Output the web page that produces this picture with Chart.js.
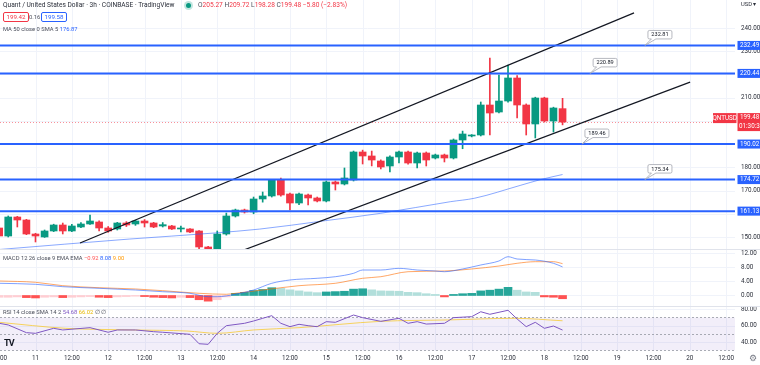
<!DOCTYPE html>
<html>
<head>
<meta charset="utf-8">
<script src="https://cdn.jsdelivr.net/npm/chart.js@4.4.1/dist/chart.umd.min.js"></script>
<style>
  html, body { margin: 0; padding: 0; background: #fff; }
  #wrap { position: relative; width: 760px; height: 365px; overflow: hidden; font-family: Roboto, "Liberation Sans", sans-serif; }
  canvas { position: absolute; left: 0; }
  .t { position: absolute; white-space: nowrap; font-size: 6.6px; line-height: 8px; color: #4a4e5a; }
  .s { font-size: 5.8px; }
  .r { color: #f23645; }
  .box { position: absolute; font-size: 6.2px; line-height: 8px; padding: 0 2.5px; border: 1px solid; border-radius: 2px; background: #fff; }
  .sep { position: absolute; left: 0; width: 760px; height: 1px; background: #e0e3eb; }
  .dot { position: absolute; width: 5px; height: 5px; border-radius: 50%; background: #089981; box-shadow: 0 0 0 2px rgba(8,153,129,0.25); }
</style>
</head>
<body>
<div id="wrap">
  <canvas id="pricePane" width="760" height="249" style="top:0"></canvas>
  <canvas id="macdPane" width="760" height="57" style="top:249px"></canvas>
  <canvas id="rsiPane" width="760" height="59" style="top:306px"></canvas>
  <div class="sep" style="top:249px"></div>
  <div class="sep" style="top:306px"></div>

  <div class="t" style="left:3px;top:1px;color:#2a2e39">Quant / United States Dollar · 3h · COINBASE · TradingView</div>
  <div class="dot" style="left:186px;top:3px"></div>
  <div class="t" style="left:198px;top:1px">O<span class="r">205.27</span> H<span class="r">209.72</span> L<span class="r">198.28</span> C<span class="r">199.48</span> <span class="r">−5.80 (−2.83%)</span></div>
  <div class="box" style="left:3px;top:12px;border-color:#f23645;color:#f23645">199.42</div>
  <div class="t s" style="left:29px;top:13px">0.16</div>
  <div class="box" style="left:41px;top:12px;border-color:#2962ff;color:#2962ff">199.58</div>
  <div class="t s" style="left:3px;top:25px">MA 50 close 0 SMA 5 <span style="color:#2962ff">176.87</span></div>
  <div class="t s" style="left:741px;top:0px;color:#2a2e39">USD ▾</div>

  <div class="t s" style="left:3px;top:254px">MACD 12 26 close 9 EMA EMA <span style="color:#ff5252">−0.92</span> <span style="color:#2962ff">8.08</span> <span style="color:#ff9800">9.00</span></div>
  <div class="t s" style="left:3px;top:308px">RSI 14 close SMA 14 2 <span style="color:#7e57c2">54.68</span> <span style="color:#e6b800">66.02</span> ∅ ∅</div>
  <div class="t" style="left:4px;top:339px;font-size:9px;font-weight:bold;color:#131722;letter-spacing:-1px">TV</div>
  <div class="t" style="left:749px;top:354px;font-size:9px;color:#787b86">⚙</div>
</div>

<script>
// 3h candles, x = hours since day 10 00:00
const hours = [12,15,18,21,24,27,30,33,36,39,42,45,48,51,54,57,60,63,66,69,72,75,78,81,84,87,90,93,96,99,102,105,108,111,114,117,120,123,126,129,132,135,138,141,144,147,150,153,156,159,162,165,168,171,174,177,180,183,186,189,192,195,198];
const openPrices = [153.87,150.42,158.60,157.31,151.28,150.00,152.58,155.16,152.58,154.30,155.59,156.45,153.87,153.44,156.02,155.59,156.88,156.02,154.73,154.73,153.44,153.44,152.58,145.69,144.60,151.28,159.04,161.62,160.76,166.36,167.65,174.54,168.51,164.63,168.08,166.79,165.50,173.68,172.82,174.54,186.60,184.88,182.72,180.57,184.44,186.60,181.86,186.17,184.01,185.31,184.01,191.77,193.49,193.92,206.84,203.82,208.56,218.47,206.84,198.66,209.85,199.95,205.27];
const highPrices = [154.30,159.04,158.90,157.60,151.60,153.00,155.50,156.00,155.40,156.20,159.47,156.90,154.50,156.30,156.60,157.20,157.50,156.30,156.20,155.00,154.70,153.60,152.80,146.00,152.58,160.30,162.00,162.00,167.20,169.37,174.80,175.40,168.90,168.90,168.50,167.20,174.10,174.10,179.71,187.00,187.40,187.00,183.20,184.90,187.00,187.00,186.60,186.60,185.70,185.70,192.20,195.60,194.10,208.13,227.08,219.76,224.07,219.50,207.30,210.20,210.20,205.90,209.72];
const lowPrices = [149.60,150.00,154.30,151.00,147.84,149.80,152.30,151.30,152.30,154.00,155.40,152.60,152.00,153.00,154.50,155.00,154.30,154.00,154.30,153.20,152.20,151.90,144.90,144.40,144.30,150.80,158.60,160.30,160.00,165.00,167.20,167.60,161.62,163.90,163.77,165.10,165.10,170.23,172.40,174.10,181.43,180.60,179.30,177.98,181.86,181.40,179.71,180.57,183.60,182.30,183.60,188.00,193.10,193.50,193.92,203.40,208.10,201.24,193.92,192.63,199.50,195.21,198.28];
const closePrices = [150.42,158.60,157.31,151.28,150.42,152.58,155.16,152.58,154.73,155.59,156.88,153.87,152.58,156.02,155.16,156.88,156.02,154.30,155.30,153.44,153.87,152.14,145.69,144.83,151.28,159.04,161.62,160.76,166.36,167.65,174.54,168.08,164.63,168.51,166.79,165.50,173.68,172.82,175.40,186.60,184.88,183.15,180.14,184.44,186.60,181.86,186.17,183.15,185.31,184.01,191.77,194.35,193.70,206.84,203.39,208.56,218.47,206.84,198.66,209.85,199.95,205.55,199.48];

const maHours = [12,55,83,98,119,138,161,169,184,191,198];
const maValues = [144.6,149.1,151.7,153.4,156.9,160.2,165.2,166.7,172.2,174.8,176.9];

const levels = [232.49, 220.44, 190.02, 174.72, 161.13];
const noteLabels = ['232.81', '220.89', '189.46', '175.34'];
const noteLevels = [232.49, 220.44, 190.02, 174.72];
const noteHours = [225.2, 207.1, 204.4, 225.2];
const upperChannel = [[38.7, 147.4], [221.6, 246.5]];
const lowerChannel = [[92.8, 144.4], [240.1, 216.7]];
const lastPrice = 199.48;

const macdHist = [-0.5,-0.5,-0.4,-0.6,-0.7,-0.5,-0.4,-0.6,-0.5,-0.4,-0.3,-0.5,-0.6,-0.4,-0.3,-0.2,-0.3,-0.5,-0.6,-0.7,-0.5,-0.6,-1.2,-1.6,-1.2,-0.4,0.6,0.9,1.4,1.7,2.2,2.0,1.6,1.3,1.0,0.8,1.0,1.1,1.2,1.8,1.9,1.6,1.3,1.25,1.2,0.9,0.8,0.5,0.3,-0.4,0.3,0.5,0.6,1.3,1.5,1.8,2.3,1.5,1.0,0.9,-0.4,-0.5,-0.92];
const macdHours = [12,24,33,45,57,66,75,81,84,90,96,102,108,117,123,129,132,138,144,150,156,159,165,171,177,180,183,189,195,198];
const macdValues = [3.45,3.16,2.49,2.03,1.55,1.07,0.62,-0.34,-0.34,0.34,1.55,3.45,4.38,4.86,5.31,6.27,7.20,7.20,7.68,7.20,6.92,6.72,7.49,8.62,9.75,10.96,10.31,10.03,9.10,8.08];
const signalHours = [12,24,33,45,57,66,78,87,90,99,111,123,132,138,147,159,168,177,183,189,195,198];
const signalValues = [4.10,3.73,2.77,2.20,1.84,1.36,0.62,0.34,0.62,1.55,2.77,3.45,4.86,5.31,6.72,6.92,7.49,8.33,9.10,9.55,9.55,9.00];

const rsiHours = [12,15,21,24,30,33,42,48,51,57,63,66,75,78,81,84,87,93,96,99,102,105,108,111,114,117,120,123,129,132,138,144,147,150,153,159,162,168,171,174,180,183,186,189,192,195,198];
const rsiValues = [62.9,60.9,51.5,50.7,56.8,54.8,57.6,52.0,54.8,54.8,52.7,52.0,49.5,38.0,37.3,50.7,60.0,62.9,65.7,69.0,72.2,62.9,58.8,61.7,60.0,58.8,64.9,64.1,73.0,69.8,65.3,69.0,62.9,64.9,62.0,62.9,69.8,71.0,77.0,73.9,78.8,68.2,58.8,64.1,56.8,59.6,54.7];
const rsiMaHours = [12,34,56,74,84,96,111,138,160,182,198];
const rsiMaValues = [64.1,56.8,54.8,53.5,50.7,54.8,57.6,65.3,67.0,69.0,66.0];

const priceTicks = [240,230,220,210,200,190,180,170,160,150];
const macdTicks = [12,8,4,0];
const rsiTicks = [80,60,40];
const timeTickHours = [12,24,36,48,60,72,84,96,108,120,132,144,156,168,180,192,204,216,228,240,252];
const timeTickLabels = ['12:00','11','12:00','12','12:00','13','12:00','14','12:00','15','12:00','16','12:00','17','12:00','18','12:00','19','12:00','20','12:00'];

const X_MIN = 12.28, X_MAX = 254.93;
const GREEN = '#089981', RED = '#f23645', BLUE = '#2962ff';
const FONT = 'Roboto, "Liberation Sans", sans-serif';

const pts = (xs, ys) => xs.map((x, i) => ({x: x, y: ys[i]}));
const candleColors = closePrices.map((c, i) => c >= openPrices[i] ? GREEN : RED);
const histColors = macdHist.map((v, i) => {
  const prev = i ? macdHist[i - 1] : v;
  if (v >= 0) return v >= prev ? '#26a69a' : '#b2dfdb';
  return v < prev ? '#ff5252' : '#ffcdd2';
});

function baseOptions(yMin, yMax, padBottom) {
  return {
    responsive: false, animation: false, events: [],
    layout: {padding: {left: 0, right: 25, top: 0, bottom: padBottom}},
    plugins: {legend: {display: false}, tooltip: {enabled: false}},
    scales: {
      x: {type: 'linear', offset: false, min: X_MIN, max: X_MAX, display: false},
      y: {min: yMin, max: yMax, display: false}
    }
  };
}

function drawGrid(chart, ticks) {
  const {ctx, chartArea: a, scales: {x, y}} = chart;
  ctx.save();
  ctx.strokeStyle = '#f0f3fa';
  ctx.lineWidth = 1;
  timeTickHours.forEach(h => {
    const px = Math.round(x.getPixelForValue(h)) + 0.5;
    ctx.beginPath(); ctx.moveTo(px, a.top); ctx.lineTo(px, a.bottom); ctx.stroke();
  });
  ticks.forEach(t => {
    const py = Math.round(y.getPixelForValue(t)) + 0.5;
    ctx.beginPath(); ctx.moveTo(a.left, py); ctx.lineTo(a.right, py); ctx.stroke();
  });
  ctx.restore();
}

function drawAxisLabels(chart, ticks) {
  const {ctx, scales: {y}} = chart;
  ctx.save();
  ctx.font = '6.3px ' + FONT;
  ctx.fillStyle = '#2a2e39';
  ctx.textBaseline = 'middle';
  ticks.forEach(t => ctx.fillText(t.toFixed(2), 741, y.getPixelForValue(t)));
  ctx.restore();
}

const priceDecor = {
  id: 'priceDecor',
  beforeDatasetsDraw(chart) {
    drawGrid(chart, priceTicks);
    const {ctx, chartArea: a, scales: {y}} = chart;
    const py = Math.round(y.getPixelForValue(lastPrice)) + 0.5;
    ctx.save();
    ctx.strokeStyle = 'rgba(242,54,69,0.55)';
    ctx.setLineDash([1, 2]);
    ctx.beginPath(); ctx.moveTo(a.left, py); ctx.lineTo(a.right, py); ctx.stroke();
    ctx.restore();
  },
  afterDatasetsDraw(chart) {
    const {ctx, scales: {x, y}} = chart;
    drawAxisLabels(chart, priceTicks);
    ctx.save();
    ctx.font = '6.3px ' + FONT;
    ctx.textBaseline = 'middle';
    // level tags on the price axis
    levels.forEach(p => {
      const py = y.getPixelForValue(p);
      ctx.fillStyle = BLUE;
      ctx.fillRect(737.5, py - 4.5, 22.5, 9);
      ctx.fillStyle = '#fff';
      ctx.fillText(p.toFixed(2), 740, py);
    });
    // last price tag with countdown
    const ly = y.getPixelForValue(lastPrice);
    ctx.fillStyle = RED;
    ctx.fillRect(737.5, ly - 9, 22.5, 18);
    ctx.fillRect(713, ly - 9, 23.5, 10);
    ctx.fillStyle = '#fff';
    ctx.fillText(lastPrice.toFixed(2), 740, ly - 4.2);
    ctx.fillText('01:30:31', 739, ly + 4.5);
    ctx.textAlign = 'center';
    ctx.fillText('QNTUSD', 724.7, ly - 4);
    // price notes
    noteLabels.forEach((txt, i) => {
      const ax = x.getPixelForValue(noteHours[i]);
      const ay = y.getPixelForValue(noteLevels[i]);
      const bx = ax + 3, by = ay - 15, bw = 24, bh = 8.5;
      ctx.fillStyle = '#fff';
      ctx.strokeStyle = '#a3a6af';
      ctx.lineWidth = 0.8;
      ctx.beginPath();
      ctx.moveTo(bx + 1.5, by);
      ctx.lineTo(bx + bw - 1.5, by);
      ctx.quadraticCurveTo(bx + bw, by, bx + bw, by + 1.5);
      ctx.lineTo(bx + bw, by + bh - 1.5);
      ctx.quadraticCurveTo(bx + bw, by + bh, bx + bw - 1.5, by + bh);
      ctx.lineTo(bx + 8, by + bh);
      ctx.lineTo(ax, ay);
      ctx.lineTo(bx + 3.5, by + bh);
      ctx.lineTo(bx + 1.5, by + bh);
      ctx.quadraticCurveTo(bx, by + bh, bx, by + bh - 1.5);
      ctx.lineTo(bx, by + 1.5);
      ctx.quadraticCurveTo(bx, by, bx + 1.5, by);
      ctx.closePath();
      ctx.fill();
      ctx.stroke();
      ctx.fillStyle = '#131722';
      ctx.font = '5.6px ' + FONT;
      ctx.fillText(txt, bx + bw / 2, by + bh / 2 + 0.3);
    });
    ctx.restore();
  }
};

const levelSets = levels.map(p => ({
  type: 'line', data: [{x: X_MIN, y: p}, {x: X_MAX, y: p}],
  borderColor: BLUE, borderWidth: 2, pointRadius: 0, order: 0
}));

new Chart(document.getElementById('pricePane'), {
  type: 'bar',
  data: {
    datasets: [
      {type: 'bar', data: hours.map((h, i) => ({x: h, y: [lowPrices[i], highPrices[i]]})),
       backgroundColor: candleColors, barThickness: 1, grouped: false, order: 3},
      {type: 'bar', data: hours.map((h, i) => ({x: h, y: [openPrices[i], closePrices[i]]})),
       backgroundColor: candleColors, barThickness: 7, minBarLength: 1, grouped: false, order: 2},
      {type: 'line', data: pts(maHours, maValues), borderColor: 'rgba(41,98,255,0.55)', borderWidth: 1,
       pointRadius: 0, cubicInterpolationMode: 'monotone', order: 1},
      ...levelSets,
      {type: 'line', data: upperChannel.map(p => ({x: p[0], y: p[1]})), borderColor: '#131722', borderWidth: 1.2, pointRadius: 0, order: 0},
      {type: 'line', data: lowerChannel.map(p => ({x: p[0], y: p[1]})), borderColor: '#131722', borderWidth: 1.2, pointRadius: 0, order: 0}
    ]
  },
  options: baseOptions(144.82, 252.06, 0),
  plugins: [priceDecor]
});

new Chart(document.getElementById('macdPane'), {
  type: 'bar',
  data: {
    datasets: [
      {type: 'bar', data: pts(hours, macdHist), backgroundColor: histColors, barThickness: 8, grouped: false, order: 2},
      {type: 'line', data: pts(macdHours, macdValues), borderColor: 'rgba(41,98,255,0.6)', borderWidth: 1,
       pointRadius: 0, cubicInterpolationMode: 'monotone', order: 1},
      {type: 'line', data: pts(signalHours, signalValues), borderColor: 'rgba(255,109,0,0.6)', borderWidth: 1,
       pointRadius: 0, cubicInterpolationMode: 'monotone', order: 1}
    ]
  },
  options: baseOptions(-2.97, 13.14, 0),
  plugins: [{
    id: 'macdDecor',
    beforeDatasetsDraw(chart) { drawGrid(chart, macdTicks); },
    afterDatasetsDraw(chart) { drawAxisLabels(chart, macdTicks); }
  }]
});

new Chart(document.getElementById('rsiPane'), {
  type: 'line',
  data: {
    datasets: [
      {data: pts(rsiHours, rsiValues), borderColor: '#7e57c2', borderWidth: 1, pointRadius: 0, tension: 0},
      {data: pts(rsiMaHours, rsiMaValues), borderColor: 'rgba(247,200,40,0.75)', borderWidth: 1,
       pointRadius: 0, cubicInterpolationMode: 'monotone'}
    ]
  },
  options: baseOptions(29.15, 84.0, 14),
  plugins: [{
    id: 'rsiDecor',
    beforeDatasetsDraw(chart) {
      drawGrid(chart, rsiTicks);
      const {ctx, chartArea: a, scales: {y}} = chart;
      const y70 = y.getPixelForValue(70), y30 = y.getPixelForValue(30);
      ctx.save();
      ctx.fillStyle = 'rgba(126,87,194,0.1)';
      ctx.fillRect(a.left, y70, a.right - a.left, y30 - y70);
      ctx.strokeStyle = '#9598a1';
      ctx.lineWidth = 0.8;
      ctx.setLineDash([2, 2]);
      [70, 50, 30].forEach(v => {
        const py = Math.round(y.getPixelForValue(v)) + 0.5;
        ctx.beginPath(); ctx.moveTo(a.left, py); ctx.lineTo(a.right, py); ctx.stroke();
      });
      ctx.restore();
    },
    afterDatasetsDraw(chart) {
      drawAxisLabels(chart, rsiTicks);
      const {ctx, scales: {x}} = chart;
      ctx.save();
      ctx.font = '6.3px ' + FONT;
      ctx.fillStyle = '#2a2e39';
      ctx.textAlign = 'center';
      ctx.textBaseline = 'middle';
      timeTickHours.forEach((h, i) => ctx.fillText(timeTickLabels[i], x.getPixelForValue(h), 52));
      ctx.restore();
    }
  }]
});
</script>
</body>
</html>
